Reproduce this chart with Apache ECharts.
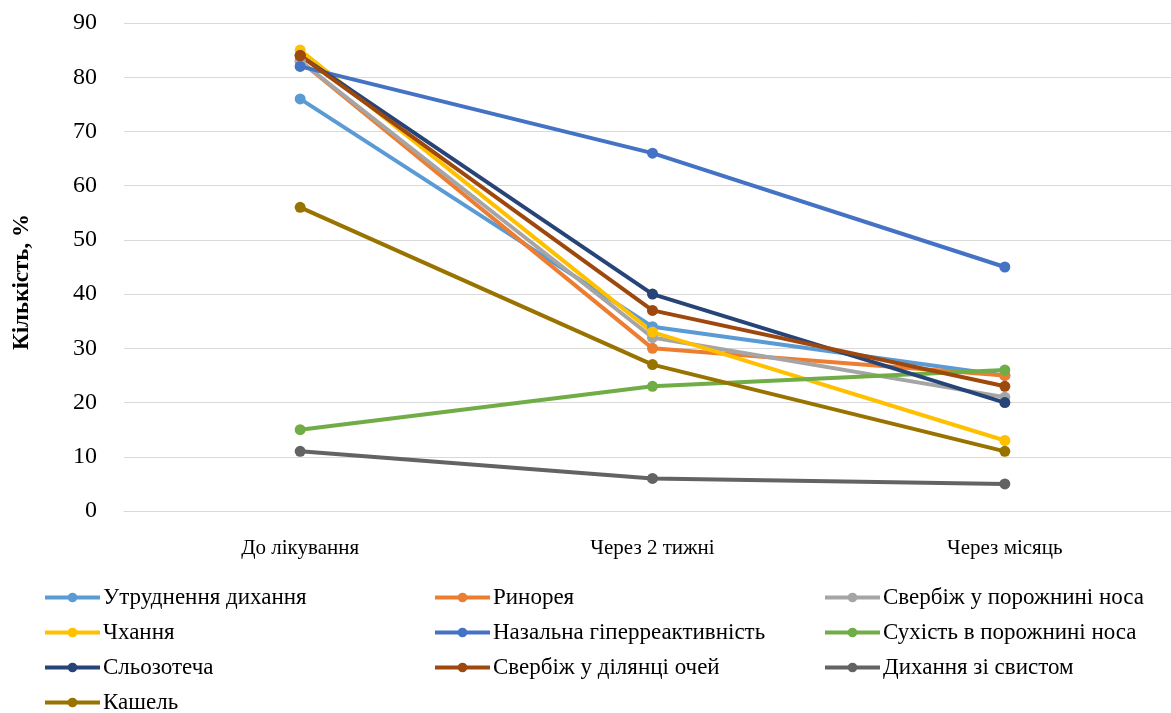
<!DOCTYPE html>
<html>
<head>
<meta charset="utf-8">
<script src="https://cdn.jsdelivr.net/npm/echarts@6/dist/echarts.min.js"></script>
<style>
  html, body { margin: 0; padding: 0; background: #fff; overflow: hidden; }
  #chart { width: 1181px; height: 713px; }
</style>
</head>
<body>
<div id="chart"></div>
<script>
// Time points of observation
const categories = ['До лікування', 'Через 2 тижні', 'Через місяць'];

// Share of patients with each symptom, %
const utrudnennyaDykhannya = [76, 34, 25];
const rynoreya = [83, 30, 25];
const sverbizhNosa = [83, 32, 21];
const chkhannya = [85, 33, 13];
const nazalnaGiper = [82, 66, 45];
const sukhistNosa = [15, 23, 26];
const slozotecha = [84, 40, 20];
const sverbizhOchei = [84, 37, 23];
const dykhannyaSvyst = [11, 6, 5];
const kashel = [56, 27, 11];

const yTicks = [0, 10, 20, 30, 40, 50, 60, 70, 80, 90];

const seriesDefs = [
  { name: 'Утруднення дихання', data: utrudnennyaDykhannya, color: '#5B9BD5' },
  { name: 'Ринорея', data: rynoreya, color: '#ED7D31' },
  { name: 'Свербіж у порожнині носа', data: sverbizhNosa, color: '#A5A5A5' },
  { name: 'Чхання', data: chkhannya, color: '#FFC000' },
  { name: 'Назальна гіперреактивність', data: nazalnaGiper, color: '#4472C4' },
  { name: 'Сухість в порожнині носа', data: sukhistNosa, color: '#70AD47' },
  { name: 'Сльозотеча', data: slozotecha, color: '#264478' },
  { name: 'Свербіж у ділянці очей', data: sverbizhOchei, color: '#9E480E' },
  { name: 'Дихання зі свистом', data: dykhannyaSvyst, color: '#636363' },
  { name: 'Кашель', data: kashel, color: '#997300' }
];

const font = '"Liberation Serif", "Times New Roman", serif';

const legendBase = {
  orient: 'vertical',
  top: 586,
  height: 160,
  itemWidth: 55,
  itemHeight: 12,
  itemGap: 12,
  padding: 0,
  lineStyle: { width: 4 },
  itemStyle: { borderWidth: 0 },
  textStyle: { fontFamily: font, fontSize: 23, lineHeight: 23, color: '#000', padding: [0, 0, 0, -2] },
  inactiveColor: '#ccc'
};

const chart = echarts.init(document.getElementById('chart'), null, { renderer: 'canvas' });

chart.setOption({
  animation: false,
  backgroundColor: '#fff',
  grid: { left: 124, right: 0, top: 23, bottom: 202, containLabel: false },
  xAxis: {
    type: 'category',
    data: categories,
    boundaryGap: true,
    axisLine: { show: true, lineStyle: { color: '#d9d9d9', width: 1 } },
    axisTick: { show: false },
    axisLabel: { fontFamily: font, fontSize: 21, color: '#000', margin: 27 }
  },
  yAxis: {
    type: 'value',
    min: yTicks[0],
    max: yTicks[yTicks.length - 1],
    interval: 10,
    axisLine: { show: false },
    axisTick: { show: false },
    axisLabel: { fontFamily: font, fontSize: 24, color: '#000', margin: 27 },
    splitLine: { lineStyle: { color: '#d9d9d9', width: 1 } }
  },
  graphic: [{
    type: 'text',
    x: 22,
    y: 282,
    rotation: Math.PI / 2,
    style: {
      text: 'Кількість, %',
      font: 'bold 23px ' + font,
      fill: '#000',
      align: 'center',
      verticalAlign: 'middle'
    }
  }],
  legend: [
    Object.assign({}, legendBase, { left: 43, data: [seriesDefs[0].name, seriesDefs[3].name, seriesDefs[6].name, seriesDefs[9].name] }),
    Object.assign({}, legendBase, { left: 433, data: [seriesDefs[1].name, seriesDefs[4].name, seriesDefs[7].name] }),
    Object.assign({}, legendBase, { left: 823, data: [seriesDefs[2].name, seriesDefs[5].name, seriesDefs[8].name] })
  ],
  series: seriesDefs.map(s => ({
    name: s.name,
    type: 'line',
    data: s.data,
    color: s.color,
    symbol: 'circle',
    symbolSize: 11,
    lineStyle: { width: 4, color: s.color },
    itemStyle: { color: s.color },
    emphasis: { disabled: true }
  }))
});
</script>
</body>
</html>
